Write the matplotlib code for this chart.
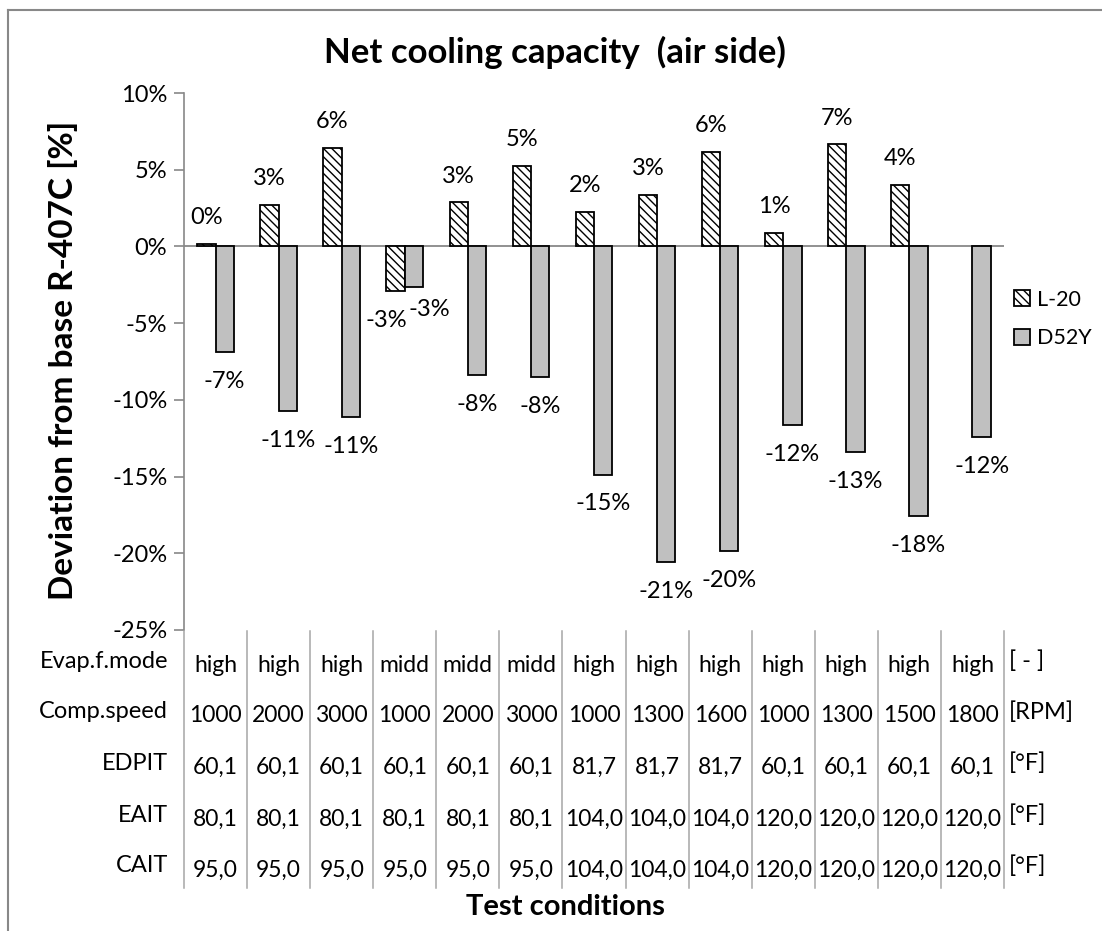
import matplotlib.pyplot as plt
import matplotlib.transforms as mtransforms
from matplotlib.lines import Line2D
import numpy as np

plt.rcParams['font.family'] = ['Lato', 'DejaVu Sans']

# data (fractions)
l20 = [0.0017, 0.0272, 0.0642, -0.0293, 0.0287, 0.0522, 0.0224, 0.0337, 0.0615, 0.0085, 0.0665, 0.0400, np.nan]
d52y = [-0.0689, -0.1072, -0.1111, -0.0265, -0.0837, -0.0850, -0.1487, -0.2060, -0.1985, -0.1163, -0.1340, -0.1760, -0.1245]

row_names = ['Evap.f.mode', 'Comp.speed', 'EDPIT', 'EAIT', 'CAIT']
row_units = ['[ - ]', '[RPM]', '[°F]', '[°F]', '[°F]']
evap_mode = ['high', 'high', 'high', 'midd', 'midd', 'midd', 'high', 'high', 'high', 'high', 'high', 'high', 'high']
comp_speed = ['1000', '2000', '3000', '1000', '2000', '3000', '1000', '1300', '1600', '1000', '1300', '1500', '1800']
edpit = ['60,1', '60,1', '60,1', '60,1', '60,1', '60,1', '81,7', '81,7', '81,7', '60,1', '60,1', '60,1', '60,1']
eait = ['80,1', '80,1', '80,1', '80,1', '80,1', '80,1', '104,0', '104,0', '104,0', '120,0', '120,0', '120,0', '120,0']
cait = ['95,0', '95,0', '95,0', '95,0', '95,0', '95,0', '104,0', '104,0', '104,0', '120,0', '120,0', '120,0', '120,0']
table_rows = [evap_mode, comp_speed, edpit, eait, cait]

W, H = 1102, 931
fig = plt.figure(figsize=(W / 100, H / 100), dpi=100)
ax = fig.add_axes([184 / W, 1 - 630 / H, (1004 - 184) / W, (630 - 93) / H])

n = len(d52y)
x = np.arange(n) + 0.5
bw = 0.29
grey = '#888888'
fs = 17

plt.rcParams['hatch.linewidth'] = 1.0
ax.bar(x - bw, l20, bw, align='edge', color='white', edgecolor='black', hatch='\\\\\\\\', linewidth=1.3, label='L-20', zorder=3)
ax.bar(x, d52y, bw, align='edge', color='#c0c0c0', edgecolor='black', linewidth=1.3, label='D52Y', zorder=3)

ax.set_xlim(0, n)
ax.set_ylim(-0.25, 0.10)
ax.axhline(0, color=grey, lw=1.3, zorder=2)
yt = np.arange(-0.25, 0.101, 0.05)
ax.set_yticks(yt)
ax.set_yticklabels(['%d%%' % round(v * 100) for v in yt], fontsize=fs)
ax.tick_params(axis='y', direction='out', length=7, width=1.2, color=grey, pad=5)
ax.set_xticks([])
for s in ['top', 'right', 'bottom']:
    ax.spines[s].set_visible(False)
ax.spines['left'].set_color(grey)
ax.spines['left'].set_linewidth(1.2)

# data labels
for i in range(n):
    for vals, dx_shift in ((l20, -bw / 2), (d52y, bw / 2)):
        v = vals[i]
        if np.isnan(v):
            continue
        off = 19 if v >= 0 else -21
        xo = 0
        if i == 3:
            xo = -7 if vals is l20 else 11
            if vals is d52y:
                off = -16
        ax.annotate('%d%%' % round(v * 100), (x[i] + dx_shift, v), xytext=(xo, off), textcoords='offset points',
                    ha='center', va='center', fontsize=fs, annotation_clip=False)

fig.text(555 / W, 1 - 52 / H, 'Net cooling capacity  (air side)', ha='center', va='center',
         fontsize=25, fontweight='bold')
fig.text(63 / W, 1 - 360 / H, 'Deviation from base R-407C [%]', rotation=90, ha='center', va='center',
         fontsize=24, fontweight='bold')

# legend
ax.legend(loc='center left', bbox_to_anchor=(1014 / W, 1 - 319 / H), bbox_transform=fig.transFigure,
          frameon=False, fontsize=15.5, handlelength=0.75, handleheight=0.75, handletextpad=0.3, labelspacing=0.85,
          borderaxespad=0, borderpad=0)

# table below the chart
trans = mtransforms.blended_transform_factory(ax.transData, fig.transFigure)
row_y = [665, 716, 767, 819, 870]
for r, (name, unit, vals) in enumerate(zip(row_names, row_units, table_rows)):
    yf = 1 - row_y[r] / H
    fig.text(168 / W, yf + 4 / H, name, ha='right', va='center', fontsize=fs)
    fig.text(1009 / W, yf + 4 / H, unit, ha='left', va='center', fontsize=fs)
    for i, s in enumerate(vals):
        ax.text(x[i], yf, s, transform=trans, ha='center', va='center', fontsize=16.5, clip_on=False)

for k in range(n + 1):
    fig.add_artist(Line2D([k, k], [1 - 631 / H, 1 - 888 / H], transform=trans, color='#a6a6a6', lw=1.1))

fig.text(565 / W, 1 - 907 / H, 'Test conditions', ha='center', va='center', fontsize=21, fontweight='bold')

# outer frame
fig.add_artist(Line2D([8 / W, 1], [1 - 10 / H, 1 - 10 / H], transform=fig.transFigure, color=grey, lw=1.5))
fig.add_artist(Line2D([8 / W, 8 / W], [1 - 10 / H, 0], transform=fig.transFigure, color=grey, lw=1.5))

fig.savefig('out.png', dpi=100)
